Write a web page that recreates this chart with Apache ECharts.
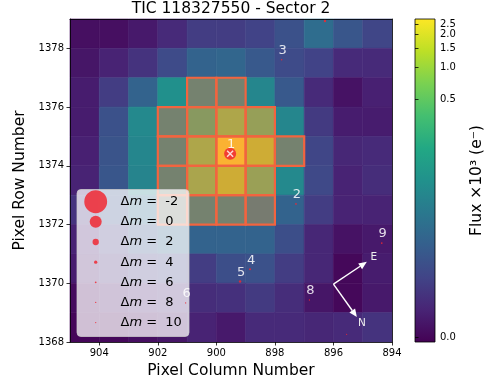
<!DOCTYPE html>
<html>
<head>
<meta charset="utf-8">
<script src="https://cdn.jsdelivr.net/npm/echarts@6/dist/echarts.min.js"></script>
<style>
  html, body { margin: 0; padding: 0; background: #fff; }
  #chart { width: 490px; height: 389px; }
</style>
</head>
<body>
<div id="chart"></div>
<script>
// pixel grid (lower-left corner of each pixel)
const colNums = [904, 903, 902, 901, 900, 899, 898, 897, 896, 895, 894];
const rowNums = [1378, 1377, 1376, 1375, 1374, 1373, 1372, 1371, 1370, 1369, 1368];
// flux in e-, one line per row (top to bottom), columns as colNums
const flux = [
  [0.6, 0.6, 1.4, 3.3, 6.5, 6.5, 7.9, 12.4, 30, 14.7, 8.7],
  [1.1, 2.4, 4.7, 10.4, 22, 24, 16, 10.4, 7.9, 3.3, 3.3],
  [1.7, 6.5, 22, 84, 104, 104, 63, 16, 3.3, 0.8, 2.1],
  [1.7, 12.4, 68, 104, 321, 738, 454, 63, 5.9, 1.7, 1.7],
  [2.1, 13.5, 63, 104, 738, 2800, 1284, 104, 8.7, 2.8, 3.3],
  [2.4, 14.7, 59, 104, 688, 1284, 487, 68, 9.5, 2.4, 3.7],
  [4.7, 12.4, 30, 84, 104, 104, 73, 22, 6.5, 2.4, 2.4],
  [2.4, 6.5, 13.5, 22, 22, 22, 22, 11.4, 2.8, 0.8, 1.4],
  [1.7, 3.7, 6.5, 7.9, 6.5, 11.4, 12.4, 6.5, 2.8, 0.1, 1.7],
  [0.3, 1.1, 2.4, 3.3, 3.7, 4.2, 5.9, 3.7, 1.1, 0.1, 1.4],
  [0, 0.1, 0.6, 1.1, 2.4, 1.4, 3.3, 3.3, 2.8, 3.3, 4.7]
];
// aperture pixels
const apCols = [900, 899, 901, 900, 899, 898, 901, 900, 899, 898, 897, 901, 900, 899, 898, 901, 900, 899, 898];
const apRows = [1376, 1376, 1375, 1375, 1375, 1375, 1374, 1374, 1374, 1374, 1374, 1373, 1373, 1373, 1373, 1372, 1372, 1372, 1372];
// Gaia sources
const starCol = [899.53, 897.28, 897.77, 898.85, 899.19, 901.05, 896.82, 894.35, 896.29, 895.55];
const starRow = [1374.41, 1372.70, 1377.61, 1370.48, 1370.06, 1369.33, 1369.43, 1371.37, 1378.93, 1368.26];
const starDm = [0, 6, 6.5, 5.5, 5, 7, 7, 6, 5, 7];
const starLabel = ['1', '2', '3', '4', '5', '6', '8', '9', '', ''];
const legendDm = [-2, 0, 2, 4, 6, 8, 10];
// compass: origin, E tip, N tip
const compassCol = [896.0, 894.86, 895.20];
const compassRow = [1369.97, 1370.73, 1368.85];
const xTicks = [904, 902, 900, 898, 896, 894];
const yTicks = [1378, 1376, 1374, 1372, 1370, 1368];
const cbTicks = [0, 0.5, 1.0, 1.5, 2.0, 2.5]; // x10^3 e-
const fluxMin = -0.3, fluxMax = 2800;

const viridis = ['#440154', '#482475', '#414487', '#355f8d', '#2a788e', '#21918c',
  '#22a884', '#44bf70', '#7ad151', '#bddf26', '#fde725'];
const starColor = '#f02832';

function stretch(v) {
  const x = (v - fluxMin) / (fluxMax - fluxMin);
  return Math.log(1000 * x + 1) / Math.log(1001);
}
function dotSize(dm) {
  return Math.max(1.3, 12 * Math.pow(1.38, -dm));
}

const cells = [];
rowNums.forEach((r, i) => {
  colNums.forEach((c, j) => {
    cells.push([c, r, flux[i][j], stretch(flux[i][j])]);
  });
});
const aperture = apCols.map((c, i) => [c, apRows[i]]);
const stars = starCol.map((c, i) => [c, starRow[i], starDm[i], starLabel[i]]);
const cbPos = cbTicks.map(t => stretch(t * 1000));

function cellRect(api, x, y) {
  const p0 = api.coord([x, y]);
  const p1 = api.coord([x + 1, y + 1]);
  return {
    x: Math.min(p0[0], p1[0]), y: Math.min(p0[1], p1[1]),
    width: Math.abs(p1[0] - p0[0]), height: Math.abs(p1[1] - p0[1])
  };
}

var chart = echarts.init(document.getElementById('chart'));

const legendItems = [{
  type: 'rect', left: 76.5, top: 189, z: 20,
  shape: { width: 112, height: 147, r: 4 },
  style: { fill: 'rgba(255,255,255,0.75)', stroke: 'rgba(204,204,204,0.75)', lineWidth: 1 }
}];
legendDm.forEach((dm, i) => {
  const cy = 201.7 + i * 20.15;
  const d = dotSize(dm);
  legendItems.push({
    type: 'circle', z: 21,
    shape: { cx: 95.7, cy: cy, r: d / 2 },
    style: { fill: starColor, opacity: 0.85 }
  });
  legendItems.push({
    type: 'text', z: 21, x: 120.5, y: cy,
    style: {
      text: '{n|Δ}{i|m}{n| =  ' + dm + '}',
      verticalAlign: 'middle',
      rich: {
        n: { fontSize: 13, fontFamily: 'DejaVu Sans', fill: '#000' },
        i: { fontSize: 13, fontFamily: 'DejaVu Sans', fontStyle: 'italic', fill: '#000' }
      }
    }
  });
});

const option = {
  animation: false,
  textStyle: { fontFamily: 'DejaVu Sans' },
  title: {
    text: 'TIC 118327550 - Sector 2',
    left: 231, top: 1, padding: 0, textAlign: 'center',
    textStyle: { fontSize: 15.5, fontWeight: 'normal', color: '#000', fontFamily: 'DejaVu Sans' }
  },
  grid: [
    { left: 70, top: 19, width: 322, height: 323 },
    { left: 415, top: 19, width: 20, height: 323 }
  ],
  visualMap: {
    type: 'continuous', show: false, dimension: 3, min: 0, max: 1,
    seriesIndex: 0, inRange: { color: viridis }
  },
  xAxis: [
    {
      gridIndex: 0, type: 'value', min: 894, max: 905, inverse: true, z: 10,
      axisLine: { show: true, onZero: false, lineStyle: { color: '#000', width: 0.8 } },
      axisTick: { show: true, customValues: xTicks, length: 3.5, lineStyle: { color: '#000', width: 0.8 } },
      axisLabel: { customValues: xTicks, fontSize: 10, color: '#000', margin: 6, formatter: v => String(v) },
      splitLine: { show: false },
      name: 'Pixel Column Number', nameLocation: 'middle', nameGap: 21,
      nameTextStyle: { fontSize: 15.5, color: '#000' }
    },
    {
      gridIndex: 0, type: 'value', min: 894, max: 905, inverse: true, position: 'top', z: 10,
      axisLine: { show: true, onZero: false, lineStyle: { color: '#000', width: 0.8 } },
      axisTick: { show: false }, axisLabel: { show: false }, splitLine: { show: false }
    },
    {
      gridIndex: 1, type: 'value', min: 0, max: 1, show: false
    }
  ],
  yAxis: [
    {
      gridIndex: 0, type: 'value', min: 1368, max: 1379, z: 10,
      axisLine: { show: true, onZero: false, lineStyle: { color: '#000', width: 0.8 } },
      axisTick: { show: true, customValues: yTicks, length: 3.5, lineStyle: { color: '#000', width: 0.8 } },
      axisLabel: { customValues: yTicks, fontSize: 10, color: '#000', margin: 6, formatter: v => String(v) },
      splitLine: { show: false },
      name: 'Pixel Row Number', nameLocation: 'middle', nameGap: 38, nameRotate: 90,
      nameTextStyle: { fontSize: 15.5, color: '#000' }
    },
    {
      gridIndex: 0, type: 'value', min: 1368, max: 1379, position: 'right', z: 10,
      axisLine: { show: true, onZero: false, lineStyle: { color: '#000', width: 0.8 } },
      axisTick: { show: false }, axisLabel: { show: false }, splitLine: { show: false }
    },
    {
      gridIndex: 1, type: 'value', min: 0, max: 1, position: 'right', z: 10,
      axisLine: { show: false },
      axisTick: { show: true, customValues: cbPos, length: 3.5, lineStyle: { color: '#000', width: 0.8 } },
      axisLabel: {
        customValues: cbPos, fontSize: 10, color: '#000', margin: 5,
        formatter: function (v) {
          let best = 0;
          cbPos.forEach((p, i) => { if (Math.abs(p - v) < Math.abs(cbPos[best] - v)) best = i; });
          return cbTicks[best].toFixed(1);
        }
      },
      splitLine: { show: false },
      name: 'Flux ×10³ (e⁻)', nameLocation: 'middle', nameGap: 34, nameRotate: 90,
      nameTextStyle: { fontSize: 15.5, color: '#000' }
    }
  ],
  series: [
    {
      type: 'custom', xAxisIndex: 0, yAxisIndex: 0, z: 1,
      dimensions: ['col', 'row', 'flux', 'level'],
      encode: { x: 0, y: 1 },
      data: cells,
      renderItem: function (params, api) {
        const c = api.visual('color');
        return {
          type: 'rect',
          shape: cellRect(api, api.value(0), api.value(1)),
          style: { fill: c, stroke: c, lineWidth: 0.6 }
        };
      }
    },
    {
      type: 'custom', xAxisIndex: 0, yAxisIndex: 0, z: 2,
      encode: { x: 0, y: 1 },
      data: aperture,
      renderItem: function (params, api) {
        return {
          type: 'rect',
          shape: cellRect(api, api.value(0), api.value(1)),
          style: { fill: 'rgba(244,100,70,0.4)', stroke: '#f2643f', lineWidth: 2.2 }
        };
      }
    },
    {
      type: 'scatter', xAxisIndex: 0, yAxisIndex: 0, z: 25,
      data: stars,
      symbolSize: function (v) { return dotSize(v[2]); },
      itemStyle: { color: starColor, opacity: 0.85 },
      label: {
        show: true, position: 'inside', offset: [1, -9],
        formatter: function (p) { return p.value[3]; },
        color: '#fff', fontSize: 13
      }
    },
    {
      type: 'scatter', xAxisIndex: 0, yAxisIndex: 0, z: 26,
      data: [[starCol[0], starRow[0]]],
      symbol: 'path://M0,0L10,10M10,0L0,10',
      symbolSize: 6,
      itemStyle: { color: 'transparent', borderColor: '#fff', borderWidth: 1.5 }
    },
    {
      type: 'custom', xAxisIndex: 0, yAxisIndex: 0, z: 5,
      data: [[compassCol[0], compassRow[0]]],
      encode: { x: 0, y: 1 },
      renderItem: function (params, api) {
        const o = api.coord([compassCol[0], compassRow[0]]);
        const tips = [api.coord([compassCol[1], compassRow[1]]), api.coord([compassCol[2], compassRow[2]])];
        const names = ['E', 'N'];
        const offs = [[7, -5], [5, 6]];
        const children = [];
        tips.forEach((t, k) => {
          const dx = t[0] - o[0], dy = t[1] - o[1];
          const len = Math.sqrt(dx * dx + dy * dy);
          const ux = dx / len, uy = dy / len;
          const hl = 8, hw = 3.5;
          const bx = t[0] - ux * hl, by = t[1] - uy * hl;
          children.push({
            type: 'line',
            shape: { x1: o[0], y1: o[1], x2: bx, y2: by },
            style: { stroke: '#fff', lineWidth: 1.4 }
          });
          children.push({
            type: 'polygon',
            shape: { points: [[t[0], t[1]], [bx - uy * hw, by + ux * hw], [bx + uy * hw, by - ux * hw]] },
            style: { fill: '#fff' }
          });
          children.push({
            type: 'text',
            x: t[0] + offs[k][0], y: t[1] + offs[k][1],
            style: { text: names[k], fill: '#eee', fontSize: 10.5, fontFamily: 'DejaVu Sans', align: 'center', verticalAlign: 'middle' }
          });
        });
        return { type: 'group', children: children };
      }
    },
    {
      type: 'custom', xAxisIndex: 2, yAxisIndex: 2, z: 1,
      data: [[0, 0]],
      encode: { x: 0, y: 1 },
      renderItem: function (params, api) {
        const p0 = api.coord([0, 0]);
        const p1 = api.coord([1, 1]);
        return {
          type: 'rect',
          shape: { x: p0[0], y: p1[1], width: p1[0] - p0[0], height: p0[1] - p1[1] },
          style: {
            fill: new echarts.graphic.LinearGradient(0, 1, 0, 0,
              viridis.map((c, i) => ({ offset: i / (viridis.length - 1), color: c }))),
            stroke: '#000', lineWidth: 0.8
          }
        };
      }
    }
  ],
  graphic: legendItems
};

chart.setOption(option);
window.addEventListener('resize', function () {
  chart.resize();
});
</script>
</body>
</html>
